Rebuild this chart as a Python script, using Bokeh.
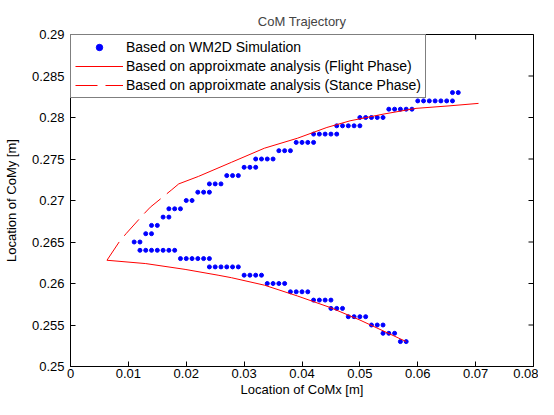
import math
from bokeh.plotting import figure
from bokeh.models import FixedTicker, Range1d
from bokeh.embed import file_html
from bokeh.resources import INLINE

# ---- data ----
x_ticks = [0, 0.01, 0.02, 0.03, 0.04, 0.05, 0.06, 0.07, 0.08]
x_tick_labels = ["0", "0.01", "0.02", "0.03", "0.04", "0.05", "0.06", "0.07", "0.08"]
y_ticks = [0.25, 0.255, 0.26, 0.265, 0.27, 0.275, 0.28, 0.285, 0.29]
y_tick_labels = ["0.25", "0.255", "0.26", "0.265", "0.27", "0.275", "0.28", "0.285", "0.29"]

# WM2D simulation, lower branch
lower_x = [0.058, 0.057,
           0.056, 0.055, 0.054,
           0.054, 0.053, 0.052,
           0.051, 0.050, 0.049, 0.048,
           0.047, 0.046, 0.045,
           0.045, 0.044, 0.043, 0.042,
           0.041, 0.040, 0.039, 0.038,
           0.037, 0.036, 0.035, 0.034,
           0.033, 0.032, 0.031, 0.030,
           0.029, 0.028, 0.027, 0.026, 0.025, 0.024,
           0.024, 0.023, 0.022, 0.021, 0.020, 0.019,
           0.018, 0.017, 0.016, 0.015, 0.014, 0.013, 0.012]
lower_y = [0.253, 0.253,
           0.254, 0.254, 0.254,
           0.255, 0.255, 0.255,
           0.256, 0.256, 0.256, 0.256,
           0.257, 0.257, 0.257,
           0.258, 0.258, 0.258, 0.258,
           0.259, 0.259, 0.259, 0.259,
           0.260, 0.260, 0.260, 0.260,
           0.261, 0.261, 0.261, 0.261,
           0.262, 0.262, 0.262, 0.262, 0.262, 0.262,
           0.263, 0.263, 0.263, 0.263, 0.263, 0.263,
           0.264, 0.264, 0.264, 0.264, 0.264, 0.264, 0.264]

# WM2D simulation, upper branch
upper_x = [0.011, 0.012,
           0.013, 0.014,
           0.014, 0.015,
           0.016, 0.017,
           0.017, 0.018, 0.019,
           0.020, 0.021,
           0.022, 0.023, 0.024,
           0.024, 0.025, 0.026,
           0.027, 0.028, 0.029,
           0.030, 0.031, 0.032,
           0.032, 0.033, 0.034, 0.035,
           0.036, 0.037, 0.038,
           0.039, 0.040, 0.041, 0.042,
           0.042, 0.043, 0.044, 0.045, 0.046,
           0.046, 0.047, 0.048, 0.049, 0.050,
           0.050, 0.051, 0.052, 0.053, 0.054,
           0.055, 0.056, 0.057, 0.058, 0.059,
           0.060, 0.061, 0.062, 0.063, 0.064, 0.065, 0.066,
           0.066, 0.067]
upper_y = [0.265, 0.265,
           0.266, 0.266,
           0.267, 0.267,
           0.268, 0.268,
           0.269, 0.269, 0.269,
           0.270, 0.270,
           0.271, 0.271, 0.271,
           0.272, 0.272, 0.272,
           0.273, 0.273, 0.273,
           0.274, 0.274, 0.274,
           0.275, 0.275, 0.275, 0.275,
           0.276, 0.276, 0.276,
           0.277, 0.277, 0.277, 0.277,
           0.278, 0.278, 0.278, 0.278, 0.278,
           0.279, 0.279, 0.279, 0.279, 0.279,
           0.280, 0.280, 0.280, 0.280, 0.280,
           0.281, 0.281, 0.281, 0.281, 0.281,
           0.282, 0.282, 0.282, 0.282, 0.282, 0.282, 0.282,
           0.283, 0.283]

# approximate analysis, flight phase (two pieces)
flight_lower_x = [0.0063, 0.0130, 0.0198, 0.0255, 0.0278, 0.0335, 0.0392, 0.0449, 0.0500, 0.0580]
flight_lower_y = [0.2628, 0.2624, 0.2617, 0.2610, 0.2607, 0.2598, 0.2585, 0.2571, 0.2556, 0.2530]
flight_upper_x = [0.0187, 0.0221, 0.0278, 0.0335, 0.0392, 0.0443, 0.0483, 0.0540, 0.0597, 0.0654, 0.0705]
flight_upper_y = [0.2720, 0.2729, 0.2746, 0.2763, 0.2775, 0.2788, 0.2796, 0.2804, 0.2811, 0.2814, 0.2817]

# approximate analysis, stance phase
stance_x = [0.0063, 0.0085, 0.0096, 0.0127, 0.0138, 0.0175, 0.0187]
stance_y = [0.2628, 0.2651, 0.2660, 0.2684, 0.2692, 0.2713, 0.2720]

FONT = "Liberation Sans"

p = figure(width=538, height=399, output_backend="svg", toolbar_location=None,
           x_range=Range1d(0, 0.08), y_range=Range1d(0.25, 0.29),
           title="CoM Trajectory",
           min_border_left=70, min_border_right=5, min_border_top=34, min_border_bottom=30)

p.title.align = "center"
p.title.vertical_align = "top"
p.title.text_font = FONT
p.title.text_font_size = "13px"
p.title.text_font_style = "normal"
p.title.standoff = 8

p.xgrid.visible = False
p.ygrid.visible = False
p.outline_line_color = "black"
p.outline_line_width = 1
p.background_fill_color = "white"
p.border_fill_color = "white"


def style_axis(ax, ticks, labels):
    ax.ticker = FixedTicker(ticks=ticks)
    ax.major_label_overrides = dict(zip(ticks, labels))
    ax.major_tick_in = 5
    ax.major_tick_out = 0
    ax.minor_tick_line_color = None
    ax.axis_line_color = "black"
    ax.major_tick_line_color = "black"
    ax.major_label_text_font = FONT
    ax.major_label_text_color = "black"
    ax.major_label_text_font_size = "13px"
    ax.axis_label_text_font = FONT
    ax.axis_label_text_font_size = "13px"
    ax.axis_label_text_font_style = "normal"
    ax.axis_label_text_color = "black"


style_axis(p.xaxis[0], x_ticks, x_tick_labels)
style_axis(p.yaxis[0], y_ticks, y_tick_labels)
p.xaxis[0].axis_label = "Location of CoMx [m]"
p.yaxis[0].axis_label = "Location of CoMy [m]"
p.xaxis[0].major_label_standoff = 2
p.xaxis[0].axis_label_standoff = 1
p.yaxis[0].major_label_standoff = 6
p.yaxis[0].axis_label_standoff = 10

# inward tick marks on the top and right edges of the box (clipped to the frame)
p.scatter(x_ticks, [p.y_range.end] * len(x_ticks), marker="dash", angle=math.pi / 2,
          size=10, line_color="black", line_width=1)
p.scatter([p.x_range.end] * len(y_ticks), y_ticks, marker="dash",
          size=10, line_color="black", line_width=1)

sim_x = lower_x + upper_x
sim_y = lower_y + upper_y
p.scatter(sim_x, sim_y, size=4, color="#0000ff", legend_label="Based on WM2D Simulation")
p.multi_line([flight_lower_x, flight_upper_x], [flight_lower_y, flight_upper_y],
             line_color="#ff0000", line_width=1,
             legend_label="Based on approixmate analysis (Flight Phase)")
p.line(stance_x, stance_y, line_color="#ff0000", line_width=1, line_dash="22 8",
       legend_label="Based on approixmate analysis (Stance Phase)")

lg = p.legend[0]
lg.location = "top_left"
lg.margin = 0
lg.padding = 4
lg.spacing = 3
lg.glyph_width = 48
lg.glyph_height = 16
lg.label_height = 16
lg.label_standoff = 3
lg.border_line_color = "black"
lg.border_line_width = 1.5
lg.background_fill_color = "white"
lg.background_fill_alpha = 1
lg.label_text_font = FONT
lg.label_text_font_size = "14px"
lg.label_text_color = "black"

open("out.html", "w").write(file_html(p, INLINE))
